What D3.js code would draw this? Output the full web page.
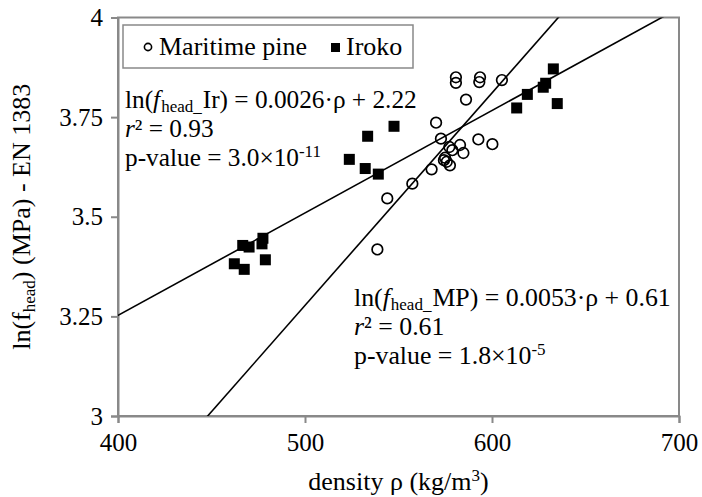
<!DOCTYPE html>
<html><head><meta charset="utf-8">
<script src="https://cdn.jsdelivr.net/npm/d3@7"></script>
<style>
body{margin:0;background:#fff;}
svg text{font-family:"Liberation Serif","Times New Roman",serif !important;fill:#000;}
</style></head>
<body><svg id="c" width="702" height="497"></svg>
<script>
// ---- data ----
const xTicks = [400, 500, 600, 700];
const yTicks = [3, 3.25, 3.5, 3.75, 4];
const yTickLabels = ["3", "3.25", "3.5", "3.75", "4"];
const mpDensity = [538.7,544.0,557.4,567.7,570.1,572.7,574.3,575.8,577.5,574.9,577.2,578.8,582.9,584.7,586.1,580.7,580.7,593.6,593.2,605.3,592.7,600.2];
const mpLnF     = [3.418,3.546,3.583,3.619,3.736,3.696,3.642,3.638,3.629,3.648,3.675,3.667,3.680,3.660,3.794,3.850,3.836,3.850,3.838,3.843,3.694,3.682];
const irDensity = [466.7,470.1,477.5,477.0,462.2,467.5,478.8,547.6,533.5,523.7,532.2,539.2,613.2,618.9,627.4,628.7,632.8,634.9];
const irLnF     = [3.428,3.424,3.446,3.432,3.382,3.368,3.392,3.727,3.702,3.644,3.621,3.607,3.773,3.807,3.825,3.835,3.871,3.784];
const irFit = {slope:0.002571, intercept:2.224};
const mpFit = {slope:0.005333, intercept:0.611};
const fitRange = [380, 720];

const svg = d3.select("#c");
const m = {l:118, r:679, t:17.5, b:416};
const x = d3.scaleLinear().domain([400,700]).range([m.l, m.r]);
const y = d3.scaleLinear().domain([3,4]).range([m.b, m.t]);
const grey = "#898989";
const FF = "Liberation Serif, Times New Roman, serif";

svg.append("defs").append("clipPath").attr("id","clip")
  .append("rect").attr("x",m.l).attr("y",m.t).attr("width",m.r-m.l).attr("height",m.b-m.t);

// frame
svg.append("rect").attr("x",m.l).attr("y",m.t).attr("width",m.r-m.l).attr("height",m.b-m.t)
  .attr("fill","none").attr("stroke",grey).attr("stroke-width",2);

// axes
const xa = svg.append("g").attr("transform",`translate(0,${m.b})`)
  .call(d3.axisBottom(x).tickValues(xTicks).tickSize(7).tickPadding(10).tickFormat(d3.format("d")));
const ya = svg.append("g").attr("transform",`translate(${m.l},0)`)
  .call(d3.axisLeft(y).tickValues(yTicks).tickSize(7).tickPadding(8).tickFormat((d,i)=>yTickLabels[i]));
[xa,ya].forEach(g=>{
  g.attr("font-family",FF);
  g.select(".domain").attr("stroke",grey).attr("stroke-width",2);
  g.selectAll(".tick line").attr("stroke",grey).attr("stroke-width",2);
  g.selectAll(".tick text").attr("font-size",25).attr("fill","#000");
});

// fit lines
const plot = svg.append("g").attr("clip-path","url(#clip)");
[irFit, mpFit].forEach(f=>{
  plot.append("line")
    .attr("x1",x(fitRange[0])).attr("y1",y(f.slope*fitRange[0]+f.intercept))
    .attr("x2",x(fitRange[1])).attr("y2",y(f.slope*fitRange[1]+f.intercept))
    .attr("stroke","#000").attr("stroke-width",1.6);
});

// points
const sq = 11;
plot.selectAll("rect.ir").data(irDensity).join("rect").attr("class","ir")
  .attr("x",(d,i)=>x(d)-sq/2).attr("y",(d,i)=>y(irLnF[i])-sq/2)
  .attr("width",sq).attr("height",sq).attr("fill","#000");
plot.selectAll("circle.mp").data(mpDensity).join("circle").attr("class","mp")
  .attr("cx",d=>x(d)).attr("cy",(d,i)=>y(mpLnF[i])).attr("r",5.3)
  .attr("fill","none").attr("stroke","#000").attr("stroke-width",1.7);

// legend
const lg = svg.append("g");
lg.append("rect").attr("x",123).attr("y",25).attr("width",290).attr("height",43)
  .attr("fill","#fff").attr("stroke",grey).attr("stroke-width",1.5);
lg.append("circle").attr("cx",148).attr("cy",47).attr("r",3.6).attr("fill","none").attr("stroke","#000").attr("stroke-width",1.6);
lg.append("text").attr("x",159).attr("y",55).attr("font-size",26).text("Maritime pine");
lg.append("rect").attr("x",331).attr("y",43).attr("width",9).attr("height",9).attr("fill","#000");
lg.append("text").attr("x",346).attr("y",55).attr("font-size",26).text("Iroko");

// equations
function eq(x0, y0, fs, name, body, r2, pm, pe){
  const g = svg.append("g");
  const t1 = g.append("text").attr("x",x0).attr("y",y0).attr("font-size",fs);
  t1.append("tspan").text("ln(");
  t1.append("tspan").attr("font-style","italic").text("f");
  t1.append("tspan").attr("font-size",17).attr("dy",4).attr("dx",1).text("head_");
  t1.append("tspan").attr("dy",-4).attr("dx",1).text(name + ") = " + body);
  const t2 = g.append("text").attr("x",x0).attr("y",y0+29).attr("font-size",fs);
  t2.append("tspan").attr("font-style","italic").text("r");
  t2.append("tspan").text("² = " + r2);
  const t3 = g.append("text").attr("x",x0).attr("y",y0+58).attr("font-size",fs);
  t3.append("tspan").text("p-value = " + pm + "×10");
  t3.append("tspan").attr("font-size",17).attr("dy",-9).text(pe);
}
eq(125, 108, 25.3, "Ir", "0.0026·ρ + 2.22", "0.93", "3.0", "-11");
eq(354, 306, 25.8, "MP", "0.0053·ρ  + 0.61", "0.61", "1.8", "-5");

// axis titles
const xt = svg.append("text").attr("x",(m.l+m.r)/2).attr("y",490).attr("text-anchor","middle").attr("font-size",26);
xt.append("tspan").text("density ρ (kg/m");
xt.append("tspan").attr("font-size",17).attr("dy",-9).text("3");
xt.append("tspan").attr("dy",9).text(")");

const yt = svg.append("text").attr("transform",`translate(30,${(m.t+m.b)/2}) rotate(-90)`)
  .attr("text-anchor","middle").attr("font-size",26);
yt.append("tspan").text("ln(f");
yt.append("tspan").attr("font-size",17).attr("dy",5).text("head");
yt.append("tspan").attr("dy",-5).text(") (MPa) - EN 1383");
</script></body></html>
